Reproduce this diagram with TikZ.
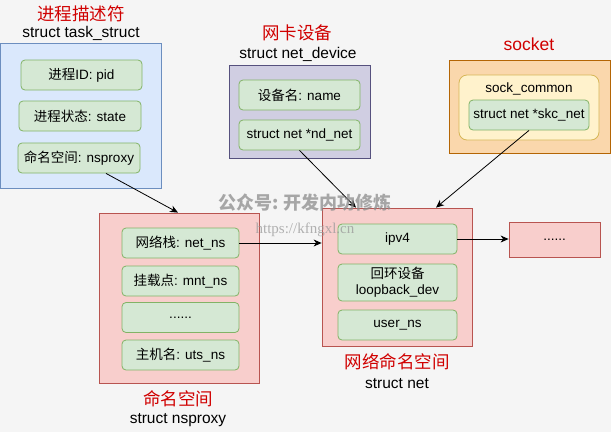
\documentclass[tikz,border=0pt]{standalone}
\usepackage{fontspec}
\setmainfont{Liberation Sans}
\newfontfamily\cjk{Noto Sans CJK SC}
\newfontfamily\wserif{Liberation Serif}
\usetikzlibrary{arrows.meta}
\definecolor{bgc}{HTML}{F5F5F5}
\definecolor{bluef}{HTML}{DAE8FC}\definecolor{blued}{HTML}{6C8EBF}
\definecolor{greenf}{HTML}{D5E8D4}\definecolor{greend}{HTML}{82B366}
\definecolor{purf}{HTML}{D0CEE2}\definecolor{purd}{HTML}{56517E}
\definecolor{oranf}{HTML}{FAD7AC}\definecolor{orand}{HTML}{B46504}
\definecolor{yelf}{HTML}{FFF2CC}\definecolor{yeld}{HTML}{D6B656}
\definecolor{redf}{HTML}{F8CECC}\definecolor{redd}{HTML}{B85450}
\definecolor{titlered}{HTML}{D00000}
\newcommand\zh[1]{{\cjk #1}}
\begin{document}
\begin{tikzpicture}[x=1pt,y=-1pt,
  outer/.style={draw, rectangle, line width=0.8pt, inner sep=0pt},
  field/.style={draw=greend, fill=greenf, rounded corners=4pt, minimum height=30pt,
     inner sep=0pt, line width=0.8pt, align=center, font=\fontsize{13.5}{15}\selectfont},
  redtitle/.style={text=titlered, inner sep=0pt, font=\fontsize{17.5}{20}\selectfont},
  subtitle/.style={inner sep=0pt, font=\fontsize{15.5}{18}\selectfont},
  arr/.style={-{Stealth[length=8pt,width=7pt,inset=2.5pt]}, line width=0.8pt}]
\useasboundingbox[fill=bgc] (0,0) rectangle (611,432);

% task_struct
\node[redtitle] (t1) at (81,14) {\zh{进程描述符}};
\node[subtitle] (s1) at (81,33) {struct task\_struct};
\node[outer, draw=blued, fill=bluef, minimum width=161pt, minimum height=145pt] (task) at (80.5,115.5) {};
\node[field, minimum width=121pt] (pid) at (81.5,75) {\zh{进程}ID: pid};
\node[field, minimum width=122pt] (state) at (80,116) {\zh{进程状态}: state};
\node[field, minimum width=122pt] (nsp) at (79,158) {\zh{命名空间}: nsproxy};

% net_device
\node[redtitle] (t2) at (297,33) {\zh{网卡设备}};
\node[subtitle] (s2) at (298,54) {struct net\_device};
\node[outer, draw=purd, fill=purf, minimum width=141pt, minimum height=93pt] (dev) at (299.5,111.5) {};
\node[field, minimum width=121pt] (name) at (299.5,95) {\zh{设备名}: name};
\node[field, minimum width=121pt] (ndnet) at (299.5,135) {struct net *nd\_net};

% socket
\node[redtitle] (t3) at (529,44) {socket};
\node[outer, draw=orand, fill=oranf, minimum width=161pt, minimum height=93pt] (sock) at (529.5,106.5) {};
\node[draw=yeld, fill=yelf, rounded corners=8pt, line width=0.8pt, minimum width=140pt, minimum height=65pt, inner sep=0pt] (common) at (529,107.5) {};
\node[inner sep=0pt, font=\fontsize{13.5}{15}\selectfont] (commonlbl) at (529,89) {sock\_common};
\node[field, minimum width=120pt] (skc) at (529,115) {struct net *skc\_net};

% nsproxy
\node[outer, draw=redd, fill=redf, minimum width=160pt, minimum height=170pt] (ns) at (179,298) {};
\node[field, minimum width=117pt] (netns) at (180.5,243) {\zh{网络栈}: net\_ns};
\node[field, minimum width=117pt] (mntns) at (180.5,281) {\zh{挂载点}: mnt\_ns};
\node[field, minimum width=117pt] (dotsf) at (180.5,317.5) {......};
\node[field, minimum width=117pt] (utsns) at (180.5,355) {\zh{主机名}: uts\_ns};
\node[redtitle] (t4) at (178,399) {\zh{命名空间}};
\node[subtitle] (s4) at (178,420) {struct nsproxy};

% net
\node[outer, draw=redd, fill=redf, minimum width=150pt, minimum height=138pt] (net) at (397,277) {};
\node[field, minimum width=119pt] (ipv4) at (397.5,239) {ipv4};
\node[field, minimum width=119pt, minimum height=37pt, font=\fontsize{13.5}{16}\selectfont] (lo) at (397.5,282.5) {\zh{回环设备}\\loopback\_dev};
\node[field, minimum width=119pt] (user) at (397.5,325) {user\_ns};
\node[redtitle] (t5) at (397,362) {\zh{网络命名空间}};
\node[subtitle] (s5) at (397,384) {struct net};

% more
\node[outer, draw=redd, fill=redf, minimum width=91pt, minimum height=35pt, font=\fontsize{13.5}{15}\selectfont] (more) at (554.5,239.5) {......};

% connectors
\draw[arr] ([xshift=27pt]nsp.south) -- ([xshift=-1pt]ns.north);
\draw[arr] (ndnet.south) -- ([xshift=-41pt]net.north);
\draw[arr] (skc.south) -- ([xshift=39pt]net.north);
\draw[arr] (netns.east) -- (netns.east -| net.west);
\draw[arr] (ipv4.east) -- (ipv4.east -| more.west);

% watermark
\node[inner sep=0pt, text=black!45, opacity=0.75, font=\cjk\bfseries\fontsize{18}{20}\selectfont] (wm1) at (305,203) {公众号: 开发内功修炼};
\node[inner sep=0pt, text=black!40, opacity=0.75, font=\wserif\fontsize{15}{17}\selectfont] (wm2) at (305,230) {https://kfngxl.cn};
\end{tikzpicture}
\end{document}
